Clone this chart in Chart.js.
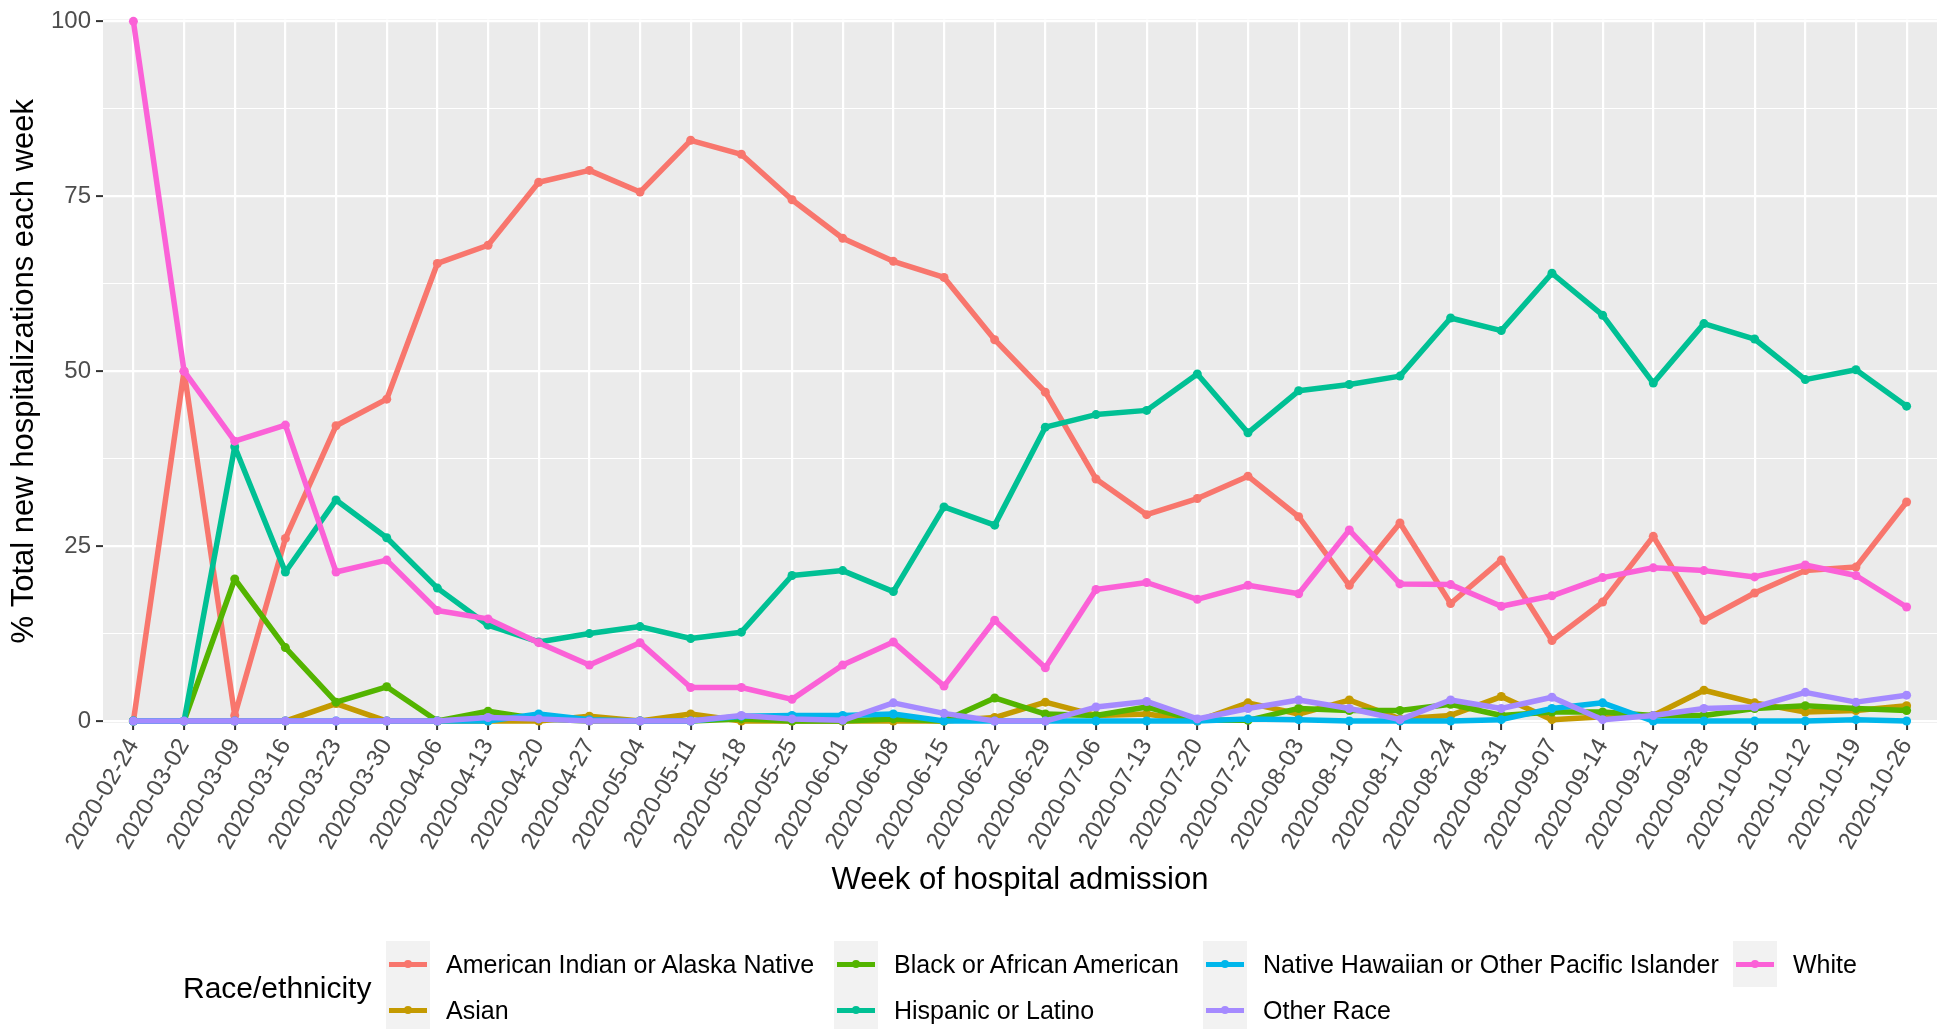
<!DOCTYPE html>
<html><head><meta charset="utf-8">
<script src="https://cdn.jsdelivr.net/npm/chart.js@4.4.0/dist/chart.umd.min.js"></script>
<style>
html,body{margin:0;padding:0;background:#fff;width:1948px;height:1029px;overflow:hidden;font-family:"Liberation Sans",Arial,sans-serif;}
#wrap{position:absolute;left:0;top:0;width:1948px;height:1029px;}
#legend{position:absolute;left:0;top:0;width:1948px;height:1029px;pointer-events:none}
.lt{position:absolute;font-size:30px;color:#000;transform:translateY(-50%);white-space:nowrap}
.item{position:absolute;display:flex;align-items:center;height:46px}
.key{width:44px;height:46px;background:#F2F2F2;position:relative;flex:none}
.key .ln{position:absolute;left:3px;right:3px;top:20.5px;height:5px}
.key .pt{position:absolute;left:18px;top:19px;width:8px;height:8px;border-radius:50%}
.lab{margin-left:16px;font-size:25px;color:#000;white-space:nowrap}
</style></head>
<body><div id="wrap"><canvas id="c" width="1948" height="1029"></canvas></div><div id="legend"></div>
<script>
const weeks = ["2020-02-24","2020-03-02","2020-03-09","2020-03-16","2020-03-23","2020-03-30","2020-04-06","2020-04-13","2020-04-20","2020-04-27","2020-05-04","2020-05-11","2020-05-18","2020-05-25","2020-06-01","2020-06-08","2020-06-15","2020-06-22","2020-06-29","2020-07-06","2020-07-13","2020-07-20","2020-07-27","2020-08-03","2020-08-10","2020-08-17","2020-08-24","2020-08-31","2020-09-07","2020-09-14","2020-09-21","2020-09-28","2020-10-05","2020-10-12","2020-10-19","2020-10-26"];

const americanIndian = [0,50,0.8,26.1,42.2,46,65.4,68,77,78.7,75.6,83,81,74.5,69,65.7,63.4,54.5,47,34.6,29.5,31.8,35,29.2,19.4,28.3,16.8,23,11.5,17,26.4,14.4,18.3,21.5,22,31.3];
const asian = [0,0,0,0,2.5,0,0,0,0,0.7,0,1.0,0,0,0,0,0,0.5,2.7,0.8,1.0,0,2.6,1.0,3.0,0.3,0.8,3.5,0.2,0.6,0.8,4.4,2.6,1.3,1.5,2.2];
const black = [0,0,20.3,10.5,2.7,4.9,0,1.4,0.3,0,0,0,0.3,0,0,0.3,0,3.3,1.0,0.8,2.0,0.1,0.1,1.8,1.5,1.5,2.4,0.8,1.3,1.3,0.8,0.8,1.8,2.2,1.8,1.5];
const hispanic = [0,0,39.2,21.3,31.6,26.2,19,13.7,11.3,12.5,13.5,11.8,12.7,20.8,21.5,18.5,30.6,28,42,43.8,44.4,49.6,41.2,47.2,48.1,49.3,57.6,55.8,64,58,48.3,56.8,54.6,48.8,50.2,45];
const nativeHawaiian = [0,0,0,0,0,0,0,0,1.0,0.2,0,0,0.7,0.8,0.8,1.0,0,0,0,0,0,0,0.3,0.2,0,0,0,0.2,1.8,2.6,0,0,0,0,0.2,0];
const otherRace = [0,0,0,0,0,0,0,0.5,0.3,0,0,0,0.8,0.3,0.1,2.6,1.1,0,0,2.0,2.8,0.3,1.8,3.0,1.8,0.2,3.0,1.8,3.4,0.2,0.8,1.8,2.0,4.1,2.7,3.7];
const white = [100,50,40,42.3,21.3,23,15.8,14.6,11.2,8,11.2,4.8,4.8,3.1,8,11.3,5,14.4,7.6,18.8,19.8,17.4,19.4,18.2,27.3,19.6,19.5,16.4,17.9,20.5,21.9,21.5,20.6,22.3,20.8,16.3];

const seriesNames = ["American Indian or Alaska Native","Asian","Black or African American","Hispanic or Latino","Native Hawaiian or Other Pacific Islander","Other Race","White"];
const seriesColors = ["#F8766D","#C49A00","#53B400","#00C094","#00B6EB","#A58AFF","#FB61D7"];
const seriesValues = [americanIndian, asian, black, hispanic, nativeHawaiian, otherRace, white];
const yMajorTicks = [0,25,50,75,100];
const yMinorTicks = [12.5,37.5,62.5,87.5];
const legendTitle = "Race/ethnicity";
const xTitle = "Week of hospital admission";
const yTitle = "% Total new hospitalizations each week";

const FONT = "'Liberation Sans', Arial, sans-serif";

const panelBg = {id:'panelBg', beforeDraw(chart){
  const {ctx, chartArea:a} = chart;
  ctx.save(); ctx.fillStyle = '#EBEBEB';
  ctx.fillRect(a.left, a.top, a.right-a.left, a.bottom-a.top);
  ctx.restore();
}};

const datasets = seriesNames.map((name, k) => ({
  label: name,
  data: seriesValues[k].map((v, i) => ({x: i, y: v})),
  borderColor: seriesColors[k],
  backgroundColor: seriesColors[k],
  pointBackgroundColor: seriesColors[k],
  pointBorderWidth: 0,
  pointRadius: 4.5,
  borderWidth: 5.5,
  borderJoinStyle: 'round',
  tension: 0,
  clip: false,
  order: seriesNames.length - 1 - k
}));

const isMajor = v => yMajorTicks.includes(v);

new Chart(document.getElementById('c'), {
  type: 'line',
  data: {datasets},
  plugins: [panelBg],
  options: {
    responsive: false,
    animation: false,
    devicePixelRatio: 1,
    layout: {padding: {top: 15, right: 11, left: 0, bottom: 0}},
    plugins: {legend: {display: false}, tooltip: {enabled: false}},
    scales: {
      x: {
        type: 'linear',
        min: -0.6, max: weeks.length - 1 + 0.6,
        afterBuildTicks: s => { s.ticks = weeks.map((w, i) => ({value: i})); },
        afterFit: s => { s.height = 1029 - 723; },
        ticks: {autoSkip: false, minRotation: 60, maxRotation: 60, padding: 4, color: '#4D4D4D',
          font: {family: FONT, size: 24}, callback: v => weeks[v]},
        grid: {color: '#FFFFFF', lineWidth: 2.2, drawTicks: true, tickLength: 7, tickColor: '#333333', tickWidth: 2},
        border: {display: false},
        title: {display: true, text: xTitle, color: '#000', font: {family: FONT, size: 31}, padding: {top: 0, bottom: 130}}
      },
      y: {
        type: 'linear',
        min: -0.28, max: 100.28,
        afterBuildTicks: s => { s.ticks = yMajorTicks.concat(yMinorTicks).sort((a,b)=>a-b).map(v => ({value: v})); },
        afterFit: s => { s.width = 103; },
        ticks: {padding: 5, color: '#4D4D4D', font: {family: FONT, size: 24},
          callback: v => isMajor(v) ? String(v) : ''},
        grid: {color: '#FFFFFF',
          lineWidth: c => (c.tick && isMajor(c.tick.value)) ? 2.2 : 1.1,
          drawTicks: true, tickLength: 7,
          tickColor: c => (c.tick && isMajor(c.tick.value)) ? '#333333' : 'rgba(0,0,0,0)', tickWidth: 2},
        border: {display: false},
        title: {display: true, text: yTitle, color: '#000', font: {family: FONT, size: 31}, padding: {top: 6, bottom: 0}}
      }
    }
  }
});

// HTML legend (2 rows, filled by column)
const lg = document.getElementById('legend');
const t = document.createElement('div');
t.className = 'lt'; t.textContent = legendTitle; t.style.left = '183px'; t.style.top = '988px';
lg.appendChild(t);
const colLefts = [386, 834, 1203, 1733];
const rowTops = [941, 987];
seriesNames.forEach((name, k) => {
  const col = Math.floor(k / 2), row = k % 2;
  const it = document.createElement('div');
  it.className = 'item';
  it.style.left = colLefts[col] + 'px';
  it.style.top = rowTops[row] + 'px';
  it.innerHTML = '<div class="key"><div class="ln" style="background:' + seriesColors[k] + '"></div><div class="pt" style="background:' + seriesColors[k] + '"></div></div><div class="lab"></div>';
  it.querySelector('.lab').textContent = name;
  lg.appendChild(it);
});
</script>
</body></html>
